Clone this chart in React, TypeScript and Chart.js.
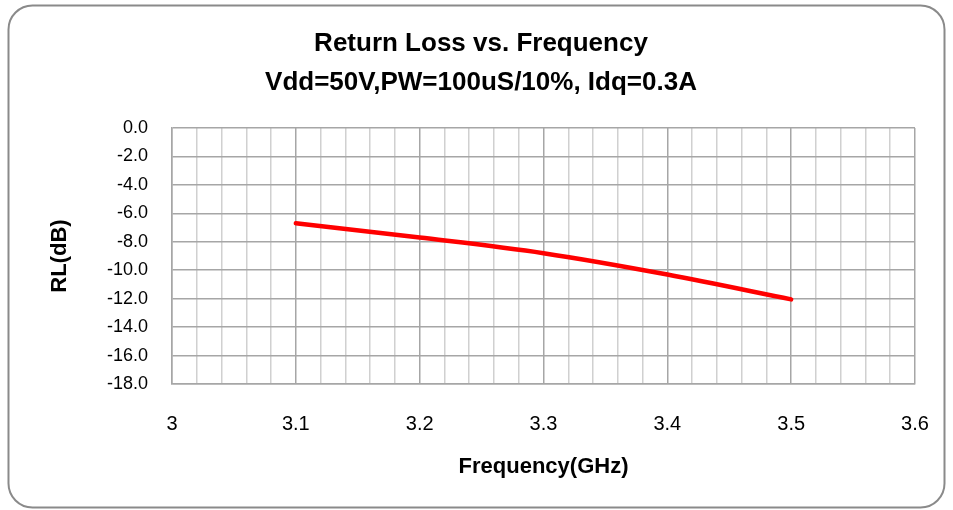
import React, { useEffect, useRef } from "react";
import { Chart, registerables } from "chart.js";

Chart.register(...registerables);

const titleLines = ["Return Loss vs. Frequency", "Vdd=50V,PW=100uS/10%, Idq=0.3A"];
const xAxisTitle = "Frequency(GHz)";
const yAxisTitle = "RL(dB)";
const frequencies = [3.1, 3.2, 3.3, 3.4, 3.5];
const returnLoss = [-6.7, -7.7, -8.8, -10.3, -12.05];
const xTickLabels = ["3", "3.1", "3.2", "3.3", "3.4", "3.5", "3.6"];
const xMin = 3.0;
const xMax = 3.6;
const xMinorStep = 0.02;
const yMin = -18;
const yMax = 0;
const yStep = 2;

const TITLE_FONT = "'Liberation Sans', sans-serif";
const TICK_FONT = "'Liberation Sans', sans-serif";

const frame = {
  id: "frame",
  beforeDraw(chart: any) {
    const ctx = chart.ctx;
    ctx.save();
    ctx.fillStyle = "#ffffff";
    ctx.fillRect(0, 0, chart.width, chart.height);
    ctx.beginPath();
    (ctx as any).roundRect(8.5, 5.5, 936, 502, 24);
    ctx.strokeStyle = "#8a8a8a";
    ctx.lineWidth = 2;
    ctx.stroke();
    ctx.restore();
  },
};

export default function App() {
  const ref = useRef<HTMLCanvasElement>(null);
  useEffect(() => {
    if (!ref.current) return;
    const points = frequencies.map((f, i) => ({ x: f, y: returnLoss[i] }));
    const chart = new Chart(ref.current, {
      type: "line",
      data: {
        datasets: [
          {
            data: points,
            borderColor: "#ff0000",
            borderWidth: 4.5,
            pointRadius: 0,
            cubicInterpolationMode: "monotone",
            borderCapStyle: "round",
            borderJoinStyle: "round",
          },
        ],
      },
      options: {
        animation: false,
        responsive: true,
        maintainAspectRatio: false,
        layout: { padding: { left: 47, right: 38, top: 0, bottom: 0 } },
        plugins: {
          legend: { display: false },
          tooltip: { enabled: false },
          title: {
            display: true,
            text: titleLines,
            color: "#000000",
            font: { family: TITLE_FONT, size: 26, weight: "bold", lineHeight: 1.5 },
            padding: { top: 24, bottom: 26 },
          },
        },
        scales: {
          x: {
            type: "linear",
            min: xMin,
            max: xMax,
            afterBuildTicks(scale: any) {
              const ticks = [];
              const n = Math.round((xMax - xMin) / xMinorStep);
              for (let i = 0; i <= n; i++) ticks.push({ value: xMin + i * xMinorStep });
              scale.ticks = ticks;
            },
            afterFit(scale: any) {
              scale.height = 126;
              scale.paddingRight = 0;
              scale.paddingLeft = 0;
            },
            ticks: {
              autoSkip: false,
              maxRotation: 0,
              padding: 28,
              color: "#000000",
              font: { family: TICK_FONT, size: 20 },
              callback: (_v: any, i: number) => (i % 5 === 0 ? xTickLabels[i / 5] : ""),
            },
            grid: {
              drawTicks: false,
              color: (c: any) => (c.index % 5 === 0 ? "#a6a6a6" : "#d0d0d0"),
              lineWidth: 1.5,
            },
            border: { color: "#a6a6a6", width: 1.5 },
            title: {
              display: true,
              text: xAxisTitle,
              color: "#000000",
              font: { family: TITLE_FONT, size: 22, weight: "bold" },
              padding: { top: 0, bottom: 30 },
            },
          },
          y: {
            min: yMin,
            max: yMax,
            afterFit(scale: any) {
              scale.width = 125;
            },
            ticks: {
              stepSize: yStep,
              padding: 24,
              color: "#000000",
              font: { family: TICK_FONT, size: 18 },
              callback: (v: any) => Number(v).toFixed(1),
            },
            grid: { drawTicks: false, color: "#a6a6a6", lineWidth: 1.5 },
            border: { color: "#a6a6a6", width: 1.5 },
            title: {
              display: true,
              text: yAxisTitle,
              color: "#000000",
              font: { family: TITLE_FONT, size: 22, weight: "bold" },
              padding: { top: 0, bottom: 0 },
            },
          },
        },
      },
      plugins: [frame],
    });
    return () => chart.destroy();
  }, []);
  return (
    <div style={{ position: "fixed", left: 0, top: 0, width: 953, height: 510 }}>
      <canvas ref={ref} />
    </div>
  );
}
